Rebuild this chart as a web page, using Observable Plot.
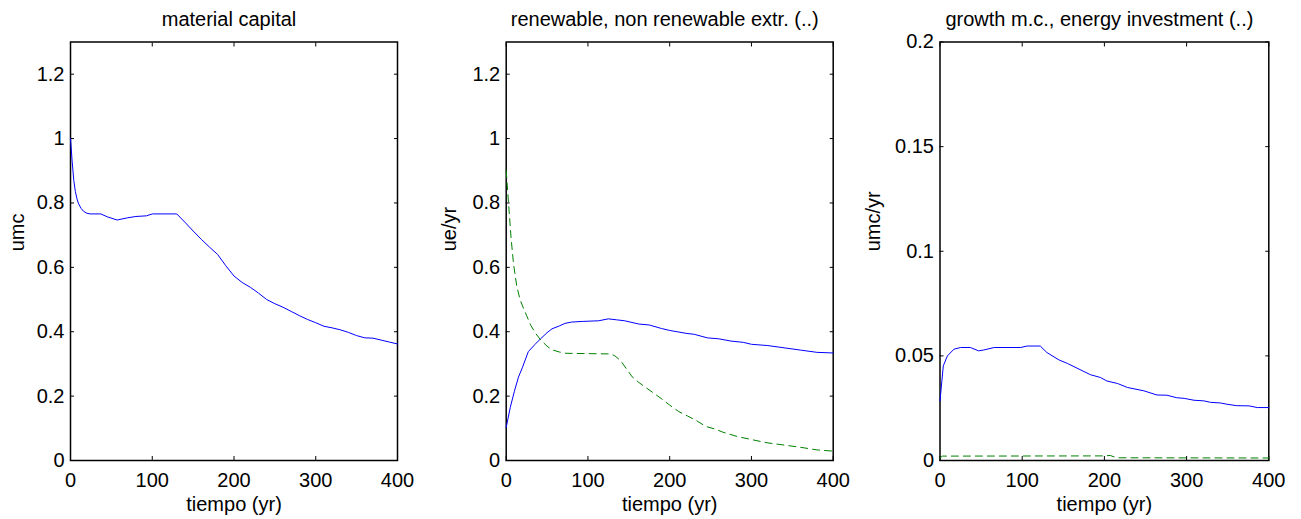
<!DOCTYPE html>
<html>
<head>
<meta charset="utf-8">
<script src="https://cdn.jsdelivr.net/npm/d3@7"></script>
<script src="https://cdn.jsdelivr.net/npm/@observablehq/plot@0.6"></script>
<style>
  html, body { margin: 0; padding: 0; background: #fff; }
  #wrap { position: relative; width: 1301px; height: 519px; overflow: hidden; }
  #wrap > svg { position: absolute; top: 0; }
</style>
</head>
<body>
<div id="wrap"></div>
<script>
// ---------- data ----------
const titles = ["material capital", "renewable, non renewable extr. (..)", "growth m.c., energy investment (..)"];
const yLabels = ["umc", "ue/yr", "umc/yr"];
const xLabel = "tiempo (yr)";
const xTicks = [0, 100, 200, 300, 400];
const yTicksA = [0, 0.2, 0.4, 0.6, 0.8, 1, 1.2];
const yTicksC = [0, 0.05, 0.1, 0.15, 0.2];

// panel 1: material capital
const tMc = [0, 2, 4, 6, 8, 10, 13, 16, 20, 24, 37, 45, 57, 70, 80, 93, 100, 130, 140, 150, 160, 170, 180, 190, 200, 210, 220, 230, 240, 250, 260, 270, 280, 290, 300, 310, 320, 330, 340, 350, 360, 370, 380, 390, 400];
const mc  = [1.0, 0.93, 0.87, 0.835, 0.812, 0.797, 0.783, 0.774, 0.768, 0.766, 0.766, 0.757, 0.747, 0.754, 0.758, 0.760, 0.766, 0.766, 0.74, 0.713, 0.687, 0.663, 0.640, 0.605, 0.573, 0.553, 0.538, 0.52, 0.50, 0.487, 0.476, 0.463, 0.45, 0.438, 0.428, 0.417, 0.412, 0.406, 0.398, 0.388, 0.381, 0.380, 0.374, 0.368, 0.362];

// panel 2: renewable (solid) and non renewable extraction (dashed)
const tRen = [0, 5, 10, 15, 20, 27, 35, 42, 50, 56, 65, 72, 80, 93, 113, 125, 135, 145, 162, 175, 190, 200, 220, 230, 246, 260, 275, 290, 300, 320, 340, 360, 380, 400];
const ren  = [0.103, 0.165, 0.215, 0.259, 0.29, 0.338, 0.36, 0.378, 0.397, 0.409, 0.418, 0.426, 0.43, 0.432, 0.434, 0.44, 0.437, 0.434, 0.424, 0.421, 0.41, 0.404, 0.395, 0.392, 0.381, 0.378, 0.371, 0.367, 0.361, 0.357, 0.350, 0.343, 0.336, 0.334];
const tNon = [0, 2, 4, 6, 9, 13, 17, 20, 25, 30, 36, 42, 50, 56, 65, 73, 100, 128, 133, 140, 147, 154, 162, 170, 180, 191, 200, 211, 222, 232, 244, 255, 265, 282, 300, 319, 340, 360, 380, 400];
const nonRen = [0.90, 0.83, 0.76, 0.69, 0.61, 0.54, 0.50, 0.48, 0.45, 0.42, 0.395, 0.375, 0.355, 0.344, 0.337, 0.333, 0.332, 0.331, 0.325, 0.31, 0.285, 0.26, 0.243, 0.228, 0.21, 0.19, 0.172, 0.152, 0.138, 0.125, 0.106, 0.098, 0.088, 0.075, 0.065, 0.055, 0.048, 0.041, 0.033, 0.029];

// panel 3: growth m.c. (solid) and energy investment (dashed)
const tGr = [0, 4, 9, 17, 25, 37, 47, 53, 66, 98, 106, 122, 130, 145, 155, 183, 195, 203, 216, 228, 248, 264, 276, 288, 297, 309, 321, 329, 341, 349, 361, 376, 386, 400];
const growth = [0.0285, 0.0452, 0.050, 0.0532, 0.054, 0.054, 0.0524, 0.0528, 0.054, 0.054, 0.0547, 0.0547, 0.0516, 0.048, 0.0464, 0.041, 0.0397, 0.038, 0.0368, 0.0349, 0.0333, 0.0313, 0.0312, 0.030, 0.0297, 0.0288, 0.0285, 0.0278, 0.0275, 0.0269, 0.0262, 0.0261, 0.0253, 0.0253];
const tEi = [0, 3, 200, 207, 215, 400];
const energyInv = [0.0012, 0.0021, 0.0022, 0.0024, 0.0013, 0.0012];

// ---------- drawing ----------
const FONT = "'Liberation Sans', Arial, Helvetica, sans-serif";
const BLUE = "#0000ff", GREEN = "#008000";

function toRows(t, v) { return t.map((d, i) => ({t: d, v: v[i]})); }

function panel({left, width, ml, mr, yDomain, yTicks, series, title, ylabel, ylabelOffset}) {
  const marks = [
    Plot.frame({stroke: "black", strokeWidth: 1.5}),
    Plot.axisX(xTicks, {anchor: "bottom", tickSize: -4, tickPadding: 16, tickFormat: d => String(d),
      label: null, fontSize: 20}),
    Plot.axisX(xTicks, {anchor: "top", tickSize: -4, tickFormat: () => "", label: null}),
    Plot.axisY(yTicks, {anchor: "left", tickSize: -4, tickPadding: 10, tickFormat: d => String(d),
      label: null, fontSize: 20}),
    Plot.axisY(yTicks, {anchor: "right", tickSize: -4, tickFormat: () => "", label: null})
  ];
  for (const s of series) {
    marks.push(Plot.line(toRows(s.t, s.v), {x: "t", y: "v", stroke: s.color, strokeWidth: 1,
      strokeDasharray: s.dash ? "7,5" : null}));
  }
  // title, x label, y label
  marks.push(Plot.text([title], {frameAnchor: "top", lineAnchor: "bottom", dy: -16.5, dx: -5,
    fontSize: 20, fill: "black"}));
  marks.push(Plot.text([xLabel], {frameAnchor: "bottom", lineAnchor: "bottom", dy: 50,
    fontSize: 20, fill: "black"}));
  marks.push(Plot.text([ylabel], {frameAnchor: "left", lineAnchor: "top", rotate: -90, dx: -ylabelOffset,
    fontSize: 20, fill: "black"}));
  const svg = Plot.plot({
    width, height: 519,
    marginLeft: ml, marginRight: mr, marginTop: 41.5, marginBottom: 59,
    x: {domain: [0, 400]},
    y: {domain: yDomain},
    style: {fontFamily: FONT, fontSize: "20px", color: "black", background: "white", overflow: "visible"},
    marks
  });
  svg.style.left = left + "px";
  document.getElementById("wrap").appendChild(svg);
}

panel({left: 0, width: 430, ml: 70, mr: 33, yDomain: [0, 1.3], yTicks: yTicksA,
  series: [{t: tMc, v: mc, color: BLUE}], title: titles[0], ylabel: yLabels[0], ylabelOffset: 61});
panel({left: 435, width: 433, ml: 70.7, mr: 35.3, yDomain: [0, 1.3], yTicks: yTicksA,
  series: [{t: tRen, v: ren, color: BLUE}, {t: tNon, v: nonRen, color: GREEN, dash: true}],
  title: titles[1], ylabel: yLabels[1], ylabelOffset: 64});
panel({left: 870, width: 431, ml: 69.5, mr: 32.7, yDomain: [0, 0.2], yTicks: yTicksC,
  series: [{t: tGr, v: growth, color: BLUE}, {t: tEi, v: energyInv, color: GREEN, dash: true}],
  title: titles[2], ylabel: yLabels[2], ylabelOffset: 74.5});
</script>
</body>
</html>
